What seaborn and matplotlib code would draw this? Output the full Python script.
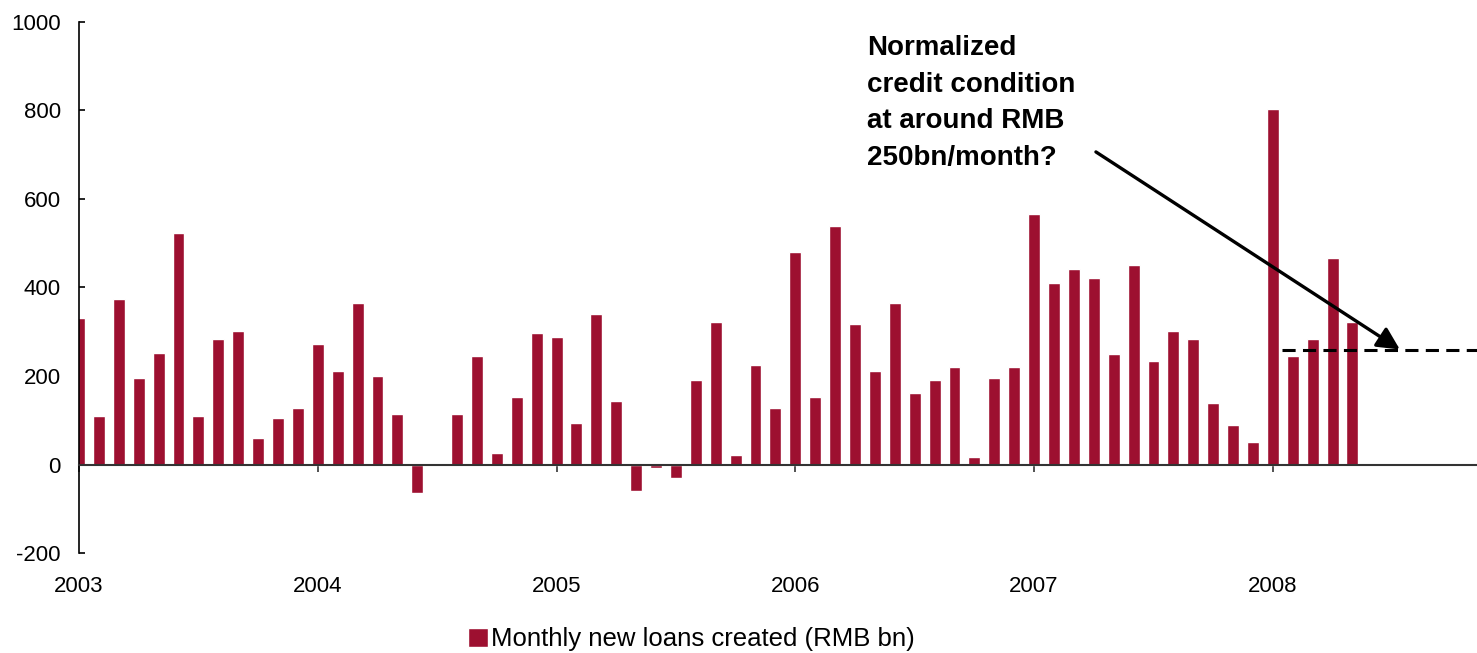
import matplotlib
matplotlib.use("Agg")
import matplotlib.pyplot as plt
import numpy as np
import pandas as pd
import seaborn as sns

# Monthly new loans, RMB bn, Jan 2003 - May 2008
loans_2003 = [331, 109, 373, 196, 253, 522, 109, 283, 301, 60, 105, 128]
loans_2004 = [272, 211, 365, 200, 114, -63, 0, 114, 245, 26, 153, 297]
loans_2005 = [288, 94, 340, 143, -59, -7, -29, 191, 322, 22, 225, 128]
loans_2006 = [479, 153, 538, 317, 211, 365, 161, 191, 220, 17, 196, 220]
loans_2007 = [567, 411, 441, 422, 249, 450, 234, 301, 283, 139, 90, 51]
loans_2008 = [802, 245, 283, 466, 322]
normal_level = 260
year_ticks = [2003, 2004, 2005, 2006, 2007, 2008]
series_label = "Monthly new loans created (RMB bn)"
note_text = "Normalized\ncredit condition\nat around RMB\n250bn/month?"

values = loans_2003 + loans_2004 + loans_2005 + loans_2006 + loans_2007 + loans_2008
months = pd.date_range("2003-01-01", periods=len(values), freq="MS")
df = pd.DataFrame({
    "t": months.year + (months.month - 1) / 12.0,
    "loans": values,
})

sns.set_style("white")
plt.rcParams["font.family"] = ["Liberation Sans", "DejaVu Sans"]
plt.rcParams["axes.unicode_minus"] = False
plt.rcParams["text.color"] = "black"

fig = plt.figure(figsize=(14.77, 6.53), dpi=100)
ax = fig.add_axes([0.0535, 0.1527, 0.9465, 0.8141])

bar_color = "#9D1030"
sns.barplot(data=df, x="t", y="loans", native_scale=True, width=0.6,
            color=bar_color, errorbar=None, saturation=1, ax=ax,
            label=series_label, zorder=2)

ax.set_xlim(2003.0, 2008.855)
ax.set_ylim(-200, 1000)
ax.set_yticks(np.arange(-200, 1001, 200))
ax.set_xticks(year_ticks)
ax.set_xlabel("")
ax.set_ylabel("")

for s in ("top", "right"):
    ax.spines[s].set_visible(False)
ax.spines["left"].set_color("black")
ax.spines["left"].set_linewidth(1.2)
ax.spines["bottom"].set_position(("data", 0))
ax.spines["bottom"].set_color("#333333")
ax.spines["bottom"].set_linewidth(1.5)
ax.spines["bottom"].set_zorder(3)

ax.tick_params(axis="y", direction="in", length=4, width=1.2, pad=13,
               labelsize=16, colors="black", left=True)
ax.tick_params(axis="x", direction="out", length=5, width=1.2,
               labelbottom=False, bottom=True, colors="#333333")

# Year labels sit below the plot area, not on the zero line
sec = ax.secondary_xaxis("bottom")
sec.set_xticks(year_ticks)
sec.set_xticklabels([str(y) for y in year_ticks])
sec.tick_params(length=0, pad=16, labelsize=16, colors="black")
sec.spines["bottom"].set_visible(False)

# Normalized level reference line
ax.plot([2008.04, 2008.855], [normal_level, normal_level], color="black",
        lw=2.2, linestyle=(0, (4.3, 2.4)), zorder=4, solid_capstyle="butt",
        dash_capstyle="butt", clip_on=False)

ax.annotate("", xy=(2008.532, normal_level), xytext=(2007.259, 706),
            arrowprops=dict(arrowstyle="-|>", lw=2.4, color="black",
                            mutation_scale=34, shrinkA=0, shrinkB=0),
            zorder=5)

ax.text(2006.30, 970, note_text, fontsize=20, fontweight="bold",
        ha="left", va="top", linespacing=1.53, color="black")

handles, labels = ax.get_legend_handles_labels()
leg = fig.legend(handles, labels, loc="center", bbox_to_anchor=(0.468, 0.021),
                 frameon=False, fontsize=18.5, handlelength=0.78,
                 handleheight=0.78, handletextpad=0.12, borderpad=0,
                 borderaxespad=0)
for t in leg.get_texts():
    t.set_color("black")
if ax.get_legend() is not None:
    ax.get_legend().remove()

fig.savefig("out.png", dpi=100)
